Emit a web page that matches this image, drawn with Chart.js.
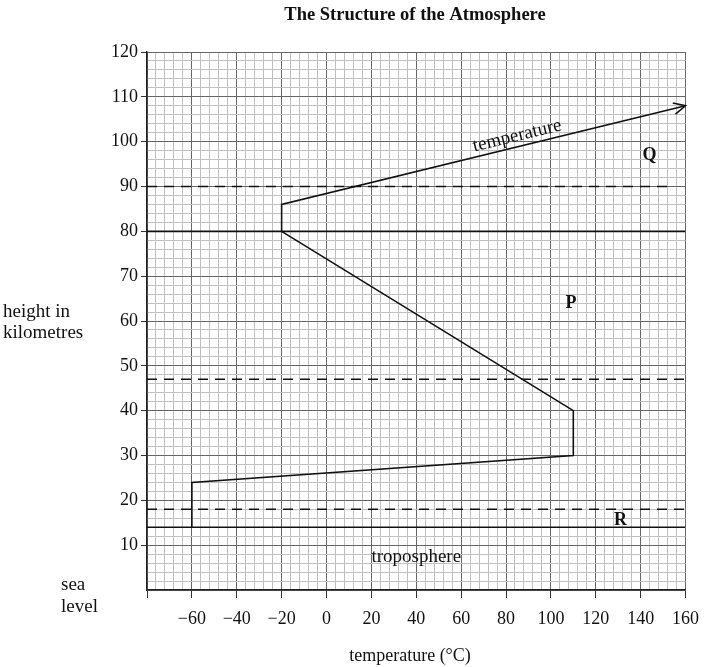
<!DOCTYPE html>
<html>
<head>
<meta charset="utf-8">
<script src="https://cdn.jsdelivr.net/npm/chart.js@4.4.0/dist/chart.umd.min.js"></script>
<style>
  body { margin: 0; background: #fff; }
  #wrap { width: 709px; height: 667px; }
</style>
</head>
<body>
<div id="wrap"><canvas id="atmos"></canvas></div>
<script>
// temperature profile (x = deg C, y = km)
var profileTemp = [-60, -60, 110, 110, -20, -20, 160];
var profileHeight = [14, 24, 30, 40, 80, 86, 108];

// layer boundaries
var solidHeights = [14, 80];
var dashedHeights = [18, 47];
var upperDashHeight = 90;
var upperDashEnd = 153;

var xMin = -80, xMax = 160;
var yMin = 0, yMax = 120;

// text labels in data coords
var labelText = ['Q', 'P', 'R'];
var labelX = [144, 109, 131];
var labelY = [97, 64, 15.6];

var serif = '"Liberation Serif", "Times New Roman", serif';
Chart.defaults.font.family = serif;
Chart.defaults.color = '#111';

function hline(y, x0, x1, dashed) {
    return {
        data: [{x: x0, y: y}, {x: x1, y: y}],
        showLine: true,
        borderColor: '#111',
        borderWidth: 1.6,
        borderDash: dashed ? [10, 7] : [],
        pointRadius: 0
    };
}

var datasets = [];
datasets.push({
    data: profileTemp.map(function(t, i) { return {x: t, y: profileHeight[i]}; }),
    showLine: true,
    borderColor: '#111',
    borderWidth: 1.6,
    pointRadius: 0,
    tension: 0
});
solidHeights.forEach(function(h) { datasets.push(hline(h, xMin, xMax, false)); });
dashedHeights.forEach(function(h) { datasets.push(hline(h, xMin, xMax, true)); });
datasets.push(hline(upperDashHeight, xMin, upperDashEnd, true));

var extras = {
    id: 'extras',
    afterDatasetsDraw: function(chart) {
        var ctx = chart.ctx;
        var pts = chart.getDatasetMeta(0).data;
        var a = pts[pts.length - 2], b = pts[pts.length - 1];
        var ang = Math.atan2(b.y - a.y, b.x - a.x);
        ctx.save();
        ctx.strokeStyle = '#111';
        ctx.lineWidth = 1.6;
        ctx.beginPath();
        ctx.moveTo(b.x - 13 * Math.cos(ang - 0.45), b.y - 13 * Math.sin(ang - 0.45));
        ctx.lineTo(b.x, b.y);
        ctx.lineTo(b.x - 13 * Math.cos(ang + 0.45), b.y - 13 * Math.sin(ang + 0.45));
        ctx.stroke();

        var xs = chart.scales.x, ys = chart.scales.y;
        ctx.fillStyle = '#111';
        ctx.textAlign = 'center';
        ctx.textBaseline = 'middle';
        ctx.font = 'bold 18px ' + serif;
        labelText.forEach(function(t, i) {
            ctx.fillText(t, xs.getPixelForValue(labelX[i]), ys.getPixelForValue(labelY[i]));
        });

        ctx.font = '19px ' + serif;
        ctx.fillText('troposphere', xs.getPixelForValue(40), ys.getPixelForValue(7.3));

        // label along the arrow
        ctx.save();
        ctx.translate(xs.getPixelForValue(85), ys.getPixelForValue(101.3));
        ctx.rotate(ang);
        ctx.fillText('temperature', 0, 0);
        ctx.restore();

        // title and axis captions
        ctx.font = 'bold 18.5px ' + serif;
        ctx.fillText('The Structure of the Atmosphere', 415, 15);
        ctx.font = '18px ' + serif;
        ctx.fillText('temperature (\u00B0C)', 410, 656);
        ctx.font = '19px ' + serif;
        ctx.textAlign = 'left';
        ctx.fillText('height in', 3, 312);
        ctx.fillText('kilometres', 3, 333);
        ctx.fillText('sea', 61, 585);
        ctx.fillText('level', 61, 607);
        ctx.restore();
    }
};

function isMajor(v, step) {
    return Math.abs(Math.round(v) % step) === 0;
}

new Chart(document.getElementById('atmos'), {
    type: 'scatter',
    data: { datasets: datasets },
    plugins: [extras],
    options: {
        responsive: true,
        maintainAspectRatio: false,
        animation: false,
        layout: { padding: { top: 52, right: 23, bottom: 0, left: 0 } },
        plugins: { legend: { display: false }, tooltip: { enabled: false } },
        scales: {
            x: {
                type: 'linear',
                min: xMin, max: xMax,
                afterFit: function(s) { s.height = 77; },
                ticks: {
                    stepSize: 4,
                    autoSkip: false,
                    maxRotation: 0,
                    padding: 10,
                    font: { size: 18 },
                    callback: function(v) {
                        if (!isMajor(v, 20) || v === xMin) return '';
                        return String(v).replace('-', '\u2212');
                    }
                },
                grid: {
                    tickLength: 8,
                    color: function(c) { return isMajor(c.tick.value, 20) ? '#666' : '#c0c0c0'; },
                    tickColor: function(c) { return isMajor(c.tick.value, 20) ? '#333' : 'rgba(0,0,0,0)'; }
                },
                border: { color: '#222', width: 1.5 }
            },
            y: {
                type: 'linear',
                min: yMin, max: yMax,
                afterFit: function(s) { s.width = 147; },
                ticks: {
                    stepSize: 2,
                    autoSkip: false,
                    padding: 3,
                    font: { size: 18 },
                    callback: function(v) {
                        if (!isMajor(v, 10) || v === yMin) return '';
                        return String(v);
                    }
                },
                grid: {
                    tickLength: 6,
                    color: function(c) { return isMajor(c.tick.value, 10) ? '#666' : '#c0c0c0'; },
                    tickColor: function(c) {
                        return (isMajor(c.tick.value, 10) && c.tick.value !== yMin) ? '#333' : 'rgba(0,0,0,0)';
                    }
                },
                border: { color: '#222', width: 1.5 }
            }
        }
    }
});
</script>
</body>
</html>
